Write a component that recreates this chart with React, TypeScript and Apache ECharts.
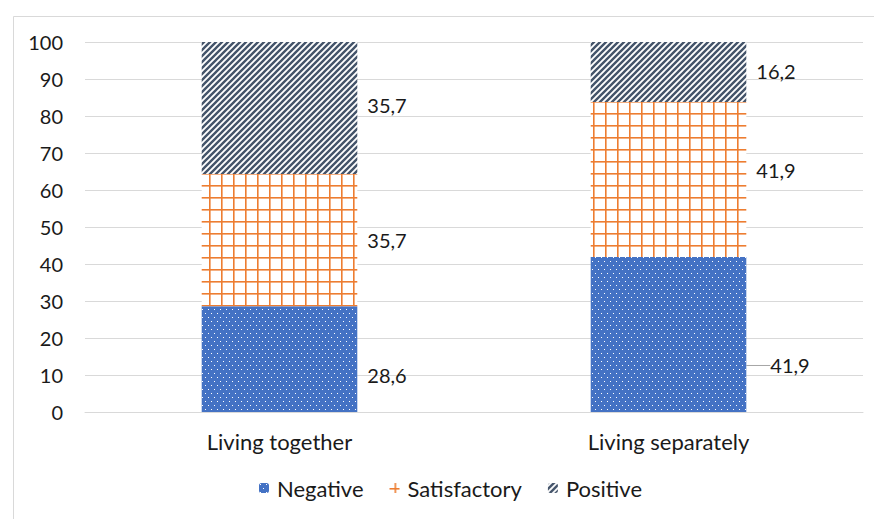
import React, { useEffect, useRef } from "react";
import * as echarts from "echarts";

const categories = ["Living together", "Living separately"];
const negative = [28.6, 41.9];
const satisfactory = [35.7, 41.9];
const positive = [35.7, 16.2];
const yTicks = [0, 10, 20, 30, 40, 50, 60, 70, 80, 90, 100];

const FONT = "Lato";
const FS = 20;
const FS_TXT = 22;

function makeTile(w: number, h: number, draw: (c: CanvasRenderingContext2D) => void) {
  const cv = document.createElement("canvas");
  cv.width = w;
  cv.height = h;
  const ctx = cv.getContext("2d")!;
  draw(ctx);
  return { image: cv, repeat: "repeat", imageWidth: w, imageHeight: h } as any;
}

export default function App() {
  const ref = useRef<HTMLDivElement>(null);
  useEffect(() => {
    if (!ref.current) return;
    const chart = echarts.init(ref.current, null, { renderer: "svg" });

    const negPattern = makeTile(6, 8, (c) => {
      c.fillStyle = "#4472C4";
      c.fillRect(0, 0, 6, 8);
      c.fillStyle = "#ffffff";
      c.fillRect(1, 1, 1, 1);
      c.fillRect(4, 5, 1, 1);
    });
    const satPattern = makeTile(12, 12, (c) => {
      c.fillStyle = "#ffffff";
      c.fillRect(0, 0, 12, 12);
      c.fillStyle = "#ED7D31";
      c.fillRect(5, 0, 1.6, 12);
      c.fillRect(0, 5, 12, 1.6);
    });
    const posPattern = makeTile(6, 6, (c) => {
      c.fillStyle = "#ffffff";
      c.fillRect(0, 0, 6, 6);
      c.strokeStyle = "#44546A";
      c.lineWidth = 2.4;
      c.beginPath();
      c.moveTo(-1, 7);
      c.lineTo(7, -1);
      c.moveTo(-4, 4);
      c.lineTo(4, -4);
      c.moveTo(2, 10);
      c.lineTo(10, 2);
      c.stroke();
    });

    const labelBase = {
      show: true,
      position: "right",
      distance: 10,
      color: "#1a1a1a",
      fontFamily: FONT,
      fontSize: FS,
      formatter: (p: any) => String(p.value).replace(".", ","),
    };

    const option: any = {
      animation: false,
      graphic: [
        {
          type: "rect",
          shape: { x: 13.5, y: 16.5, width: 880, height: 520 },
          style: { fill: "none", stroke: "#d9d9d9", lineWidth: 1 },
          silent: true,
        },
      ],
      grid: { left: 85, right: 11, top: 42, bottom: 107, containLabel: false },
      legend: {
        bottom: 15,
        left: 254,
        itemWidth: 10,
        itemHeight: 10,
        itemGap: 26,
        textStyle: { fontFamily: FONT, fontSize: FS_TXT, color: "#1a1a1a", padding: [0, 0, 0, 3] },
        data: ["Negative", "Satisfactory", "Positive"],
      },
      xAxis: {
        type: "category",
        data: categories,
        axisLine: { lineStyle: { color: "#d9d9d9" } },
        axisTick: { show: false },
        axisLabel: { margin: 18, fontFamily: FONT, fontSize: FS_TXT, color: "#1a1a1a" },
      },
      yAxis: {
        type: "value",
        min: yTicks[0],
        max: yTicks[yTicks.length - 1],
        interval: 10,
        axisLine: { show: false },
        axisTick: { show: false },
        splitLine: { lineStyle: { color: "#d9d9d9", width: 1 } },
        axisLabel: { margin: 22, fontFamily: FONT, fontSize: FS, color: "#1a1a1a" },
      },
      series: [
        {
          name: "Negative",
          type: "bar",
          stack: "total",
          barWidth: "40%",
          itemStyle: { color: negPattern },
          label: labelBase,
          labelLine: { show: false, lineStyle: { color: "#a6a6a6", width: 1 } },
          labelLayout: (p: any) => (p.dataIndex === 0 ? { dy: 16 } : { dx: 14, dy: 31 }),
          data: [
            { value: negative[0] },
            { value: negative[1], labelLine: { show: true, lineStyle: { color: "#a6a6a6", width: 1 } } },
          ],
        },
        {
          name: "Satisfactory",
          type: "bar",
          stack: "total",
          itemStyle: { color: satPattern },
          label: labelBase,
          labelLayout: (p: any) => (p.dataIndex === 1 ? { dy: -9 } : { dy: 0 }),
          data: satisfactory,
        },
        {
          name: "Positive",
          type: "bar",
          stack: "total",
          itemStyle: { color: posPattern },
          label: labelBase,
          labelLayout: (p: any) => (p.dataIndex === 0 ? { dy: -3 } : { dy: -1 }),
          data: positive,
        },
      ],
    };
    chart.setOption(option);
    return () => chart.dispose();
  }, []);
  return (
    <div
      ref={ref}
      style={{ position: "absolute", left: 0, top: 0, width: 874, height: 519, background: "#fff" }}
    />
  );
}
